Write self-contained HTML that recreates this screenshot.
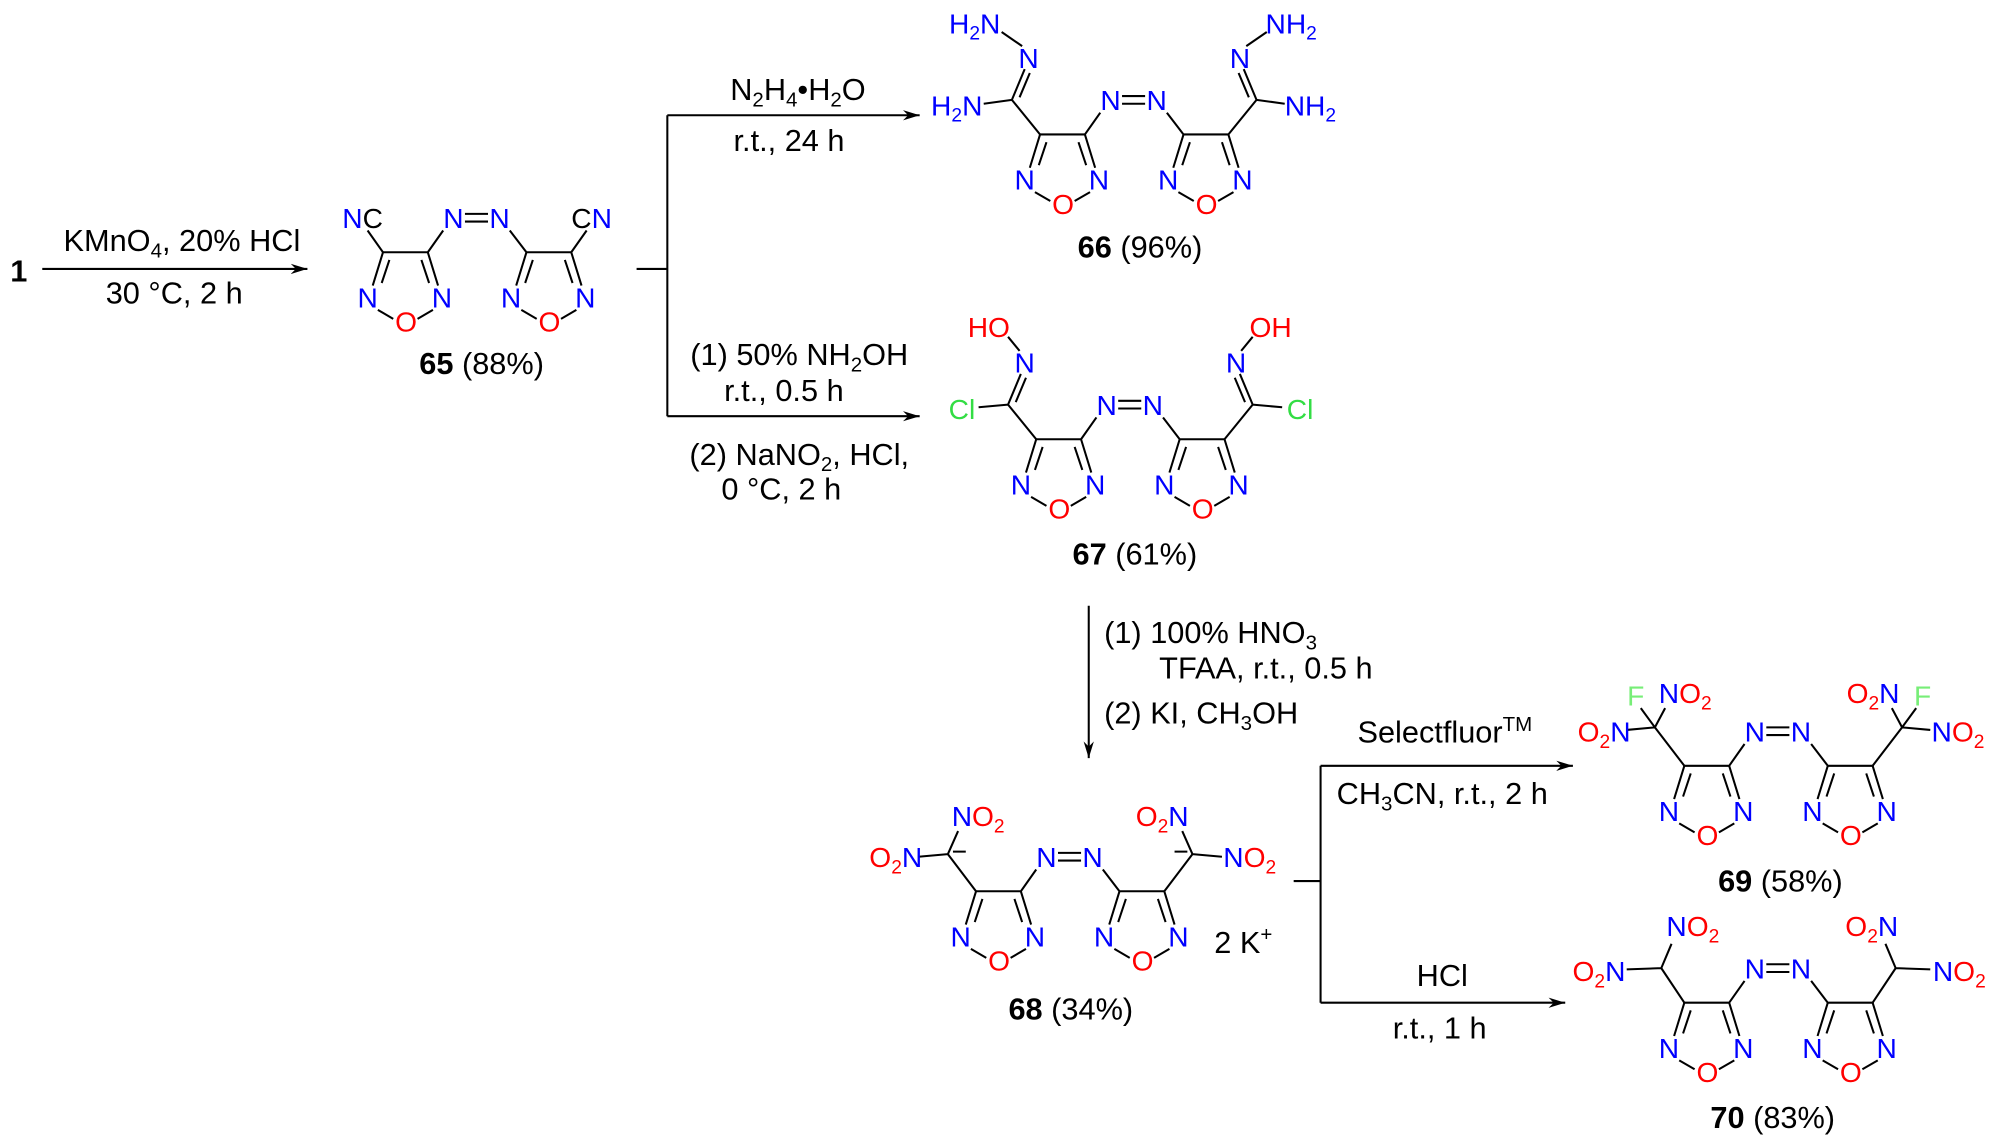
<!DOCTYPE html>
<html><head><meta charset="utf-8"><style>
html,body{margin:0;padding:0;background:#fff;}
svg{display:block;}
text{font-family:"Liberation Sans",Arial,sans-serif;}
.a{font-size:22px;text-anchor:middle;}
.b{fill:#0000ff;} .r{fill:#ff0000;} .g{fill:#33dd44;} .f{fill:#77ee77;}
.l{font-size:24px;text-anchor:middle;fill:#000;}
.t{font-size:22px;}
path{stroke:#000;stroke-width:1.6;fill:none;}
</style></head><body>
<svg width="2002" height="1141" viewBox="0 0 1563 891" preserveAspectRatio="none" xmlns="http://www.w3.org/2000/svg">
<defs><marker id="ah" markerWidth="14" markerHeight="10" refX="13" refY="5" orient="auto" markerUnits="userSpaceOnUse"><path d="M0,1 L13,5 L0,9 L4,5 Z" style="fill:#000;stroke:none"/></marker></defs>

<text x="8" y="220" style="font-size:24px;font-weight:bold">1</text>
<path d="M33,210 H240" marker-end="url(#ah)"/>
<text class="l" x="142" y="196">KMnO<tspan font-size="16" dy="5">4</tspan><tspan dy="-5">, 20% HCl</tspan></text>
<text class="l" x="136" y="237">30 °C, 2 h</text>
<path d="M497,210 H521 M521,90 V325"/>
<path d="M521,90 H718" marker-end="url(#ah)"/>
<path d="M521,325 H718" marker-end="url(#ah)"/>
<text class="l" x="623" y="78">N<tspan font-size="16" dy="5">2</tspan><tspan dy="-5">H</tspan><tspan font-size="16" dy="5">4</tspan><tspan dy="-5">•H</tspan><tspan font-size="16" dy="5">2</tspan><tspan dy="-5">O</tspan></text>
<text class="l" x="616" y="118">r.t., 24 h</text>
<text class="l" x="624" y="285">(1) 50% NH<tspan font-size="16" dy="5">2</tspan><tspan dy="-5">OH</tspan></text>
<text class="l" x="612" y="313">r.t., 0.5 h</text>
<text class="l" x="624" y="363">(2) NaNO<tspan font-size="16" dy="5">2</tspan><tspan dy="-5">, HCl,</tspan></text>
<text class="l" x="610" y="390">0 °C, 2 h</text>
<path d="M850,473 V592" marker-end="url(#ah)"/>
<text x="862" y="502" style="font-size:24px">(1) 100% HNO<tspan font-size="16" dy="5">3</tspan></text>
<text x="905" y="530" style="font-size:24px">TFAA, r.t., 0.5 h</text>
<text x="862" y="565" style="font-size:24px">(2) KI, CH<tspan font-size="16" dy="5">3</tspan><tspan dy="-5">OH</tspan></text>
<path d="M1010,688 H1031 M1031,598 V783"/>
<path d="M1031,598 H1228" marker-end="url(#ah)"/>
<path d="M1031,783 H1222" marker-end="url(#ah)"/>
<text class="l" x="1128" y="580">Selectfluor<tspan font-size="16" dy="-9">TM</tspan></text>
<text class="l" x="1126" y="628">CH<tspan font-size="16" dy="5">3</tspan><tspan dy="-5">CN, r.t., 2 h</tspan></text>
<text class="l" x="1126" y="770">HCl</text>
<text class="l" x="1124" y="811">r.t., 1 h</text>

<text class="l" x="376" y="292"><tspan font-weight="bold">65</tspan> (88%)</text>
<text class="l" x="890" y="201"><tspan font-weight="bold">66</tspan> (96%)</text>
<text class="l" x="886" y="441"><tspan font-weight="bold">67</tspan> (61%)</text>
<text class="l" x="836" y="796"><tspan font-weight="bold">68</tspan> (34%)</text>
<text class="l" x="1390" y="696"><tspan font-weight="bold">69</tspan> (58%)</text>
<text class="l" x="1384" y="881"><tspan font-weight="bold">70</tspan> (83%)</text>
<text x="948" y="744" style="font-size:24px">2 K<tspan font-size="16" dy="-9">+</tspan></text>

<!-- 65 -->
<g transform="translate(299,197)">
<path d="M0,0 H35 M0,0 L-8,26 M5,6 L-1,24 M35,0 L43,26 M30,6 L36,24 M-4,45 L8,52 M39,45 L27,52 M35,0 L47,-17 M64,-30 H82 M64,-24 H82 M99,-17 L112,0 M112,0 H147 M112,0 L104,26 M117,6 L111,24 M147,0 L155,26 M142,6 L148,24 M108,45 L120,52 M151,45 L139,52"/>
<text class="a b" x="-12" y="43">N</text><text class="a b" x="46" y="43">N</text><text class="a r" x="18" y="62">O</text>
<text class="a b" x="55" y="-19">N</text><text class="a b" x="91" y="-19">N</text>
<text class="a b" x="100" y="43">N</text><text class="a b" x="158" y="43">N</text><text class="a r" x="130" y="62">O</text>
<path d="M0,0 L-12,-17 M147,0 L159,-17"/>
<text x="0" y="-19" class="t" style="text-anchor:end"><tspan class="b">N</tspan>C</text>
<text x="147" y="-19" class="t">C<tspan class="b">N</tspan></text>
</g>

<!-- 66 -->
<g transform="translate(812,105)">
<path d="M0,0 H35 M0,0 L-8,26 M5,6 L-1,24 M35,0 L43,26 M30,6 L36,24 M-4,45 L8,52 M39,45 L27,52 M35,0 L47,-17 M64,-30 H82 M64,-24 H82 M99,-17 L112,0 M112,0 H147 M112,0 L104,26 M117,6 L111,24 M147,0 L155,26 M142,6 L148,24 M108,45 L120,52 M151,45 L139,52"/>
<text class="a b" x="-12" y="43">N</text><text class="a b" x="46" y="43">N</text><text class="a r" x="18" y="62">O</text>
<text class="a b" x="55" y="-19">N</text><text class="a b" x="91" y="-19">N</text>
<text class="a b" x="100" y="43">N</text><text class="a b" x="158" y="43">N</text><text class="a r" x="130" y="62">O</text>
<path d="M0,0 L-22,-27 M-22,-27 L-44,-24 M-22,-27 L-12,-51 M-16,-29 L-8,-48 M-14,-69 L-30,-80 M147,0 L169,-27 M169,-27 L191,-24 M169,-27 L159,-51 M163,-29 L155,-48 M161,-69 L177,-80"/>
<text class="a b" x="-9" y="-52">N</text><text class="a b" x="156" y="-52">N</text>
<text class="b t" x="-45" y="-15" style="text-anchor:end">H<tspan font-size="15" dy="5">2</tspan><tspan dy="-5">N</tspan></text>
<text class="b t" x="-31" y="-79" style="text-anchor:end">H<tspan font-size="15" dy="5">2</tspan><tspan dy="-5">N</tspan></text>
<text class="b t" x="191" y="-15">NH<tspan font-size="15" dy="5">2</tspan></text>
<text class="b t" x="176" y="-79">NH<tspan font-size="15" dy="5">2</tspan></text>
</g>

<!-- 67 -->
<g transform="translate(809,343)">
<path d="M0,0 H35 M0,0 L-8,26 M5,6 L-1,24 M35,0 L43,26 M30,6 L36,24 M-4,45 L8,52 M39,45 L27,52 M35,0 L47,-17 M64,-30 H82 M64,-24 H82 M99,-17 L112,0 M112,0 H147 M112,0 L104,26 M117,6 L111,24 M147,0 L155,26 M142,6 L148,24 M108,45 L120,52 M151,45 L139,52"/>
<text class="a b" x="-12" y="43">N</text><text class="a b" x="46" y="43">N</text><text class="a r" x="18" y="62">O</text>
<text class="a b" x="55" y="-19">N</text><text class="a b" x="91" y="-19">N</text>
<text class="a b" x="100" y="43">N</text><text class="a b" x="158" y="43">N</text><text class="a r" x="130" y="62">O</text>
<path d="M0,0 L-22,-27 M-22,-27 L-45,-25 M-22,-27 L-12,-51 M-16,-29 L-8,-48 M-13,-69 L-22,-80 M147,0 L169,-27 M169,-27 L192,-25 M169,-27 L159,-51 M163,-29 L155,-48 M160,-69 L169,-80"/>
<text class="a b" x="-9" y="-52">N</text><text class="a b" x="156" y="-52">N</text>
<text class="a g" x="-58" y="-16">Cl</text><text class="a g" x="206" y="-16">Cl</text>
<text class="a r" x="-37" y="-80">HO</text><text class="a r" x="183" y="-80">OH</text>
</g>

<!-- 68 -->
<g transform="translate(762,696)">
<path d="M0,0 H35 M0,0 L-8,26 M5,6 L-1,24 M35,0 L43,26 M30,6 L36,24 M-4,45 L8,52 M39,45 L27,52 M35,0 L47,-17 M64,-30 H82 M64,-24 H82 M99,-17 L112,0 M112,0 H147 M112,0 L104,26 M117,6 L111,24 M147,0 L155,26 M142,6 L148,24 M108,45 L120,52 M151,45 L139,52"/>
<text class="a b" x="-12" y="43">N</text><text class="a b" x="46" y="43">N</text><text class="a r" x="18" y="62">O</text>
<text class="a b" x="55" y="-19">N</text><text class="a b" x="91" y="-19">N</text>
<text class="a b" x="100" y="43">N</text><text class="a b" x="158" y="43">N</text><text class="a r" x="130" y="62">O</text>
<path d="M0,0 L-22,-29 M-22,-29 L-45,-27 M-22,-29 L-14,-47 M147,0 L169,-29 M169,-29 L192,-27 M169,-29 L161,-47 M-18,-31 H-8 M155,-31 H165"/>
<text x="-42" y="-19" class="t" style="text-anchor:end"><tspan class="r">O</tspan><tspan class="r" font-size="15" dy="5">2</tspan><tspan class="b" dy="-5">N</tspan></text>
<text x="-19" y="-51" class="t"><tspan class="b">N</tspan><tspan class="r">O</tspan><tspan class="r" font-size="15" dy="5">2</tspan></text>
<text x="193" y="-19" class="t"><tspan class="b">N</tspan><tspan class="r">O</tspan><tspan class="r" font-size="15" dy="5">2</tspan></text>
<text x="166" y="-51" class="t" style="text-anchor:end"><tspan class="r">O</tspan><tspan class="r" font-size="15" dy="5">2</tspan><tspan class="b" dy="-5">N</tspan></text>
</g>

<!-- 69 -->
<g transform="translate(1315,598)">
<path d="M0,0 H35 M0,0 L-8,26 M5,6 L-1,24 M35,0 L43,26 M30,6 L36,24 M-4,45 L8,52 M39,45 L27,52 M35,0 L47,-17 M64,-30 H82 M64,-24 H82 M99,-17 L112,0 M112,0 H147 M112,0 L104,26 M117,6 L111,24 M147,0 L155,26 M142,6 L148,24 M108,45 L120,52 M151,45 L139,52"/>
<text class="a b" x="-12" y="43">N</text><text class="a b" x="46" y="43">N</text><text class="a r" x="18" y="62">O</text>
<text class="a b" x="55" y="-19">N</text><text class="a b" x="91" y="-19">N</text>
<text class="a b" x="100" y="43">N</text><text class="a b" x="158" y="43">N</text><text class="a r" x="130" y="62">O</text>
<path d="M0,0 L-23,-30 M-23,-30 L-45,-28 M-23,-30 L-34,-45 M-23,-30 L-15,-45 M147,0 L170,-30 M170,-30 L192,-28 M170,-30 L181,-45 M170,-30 L162,-45"/>
<text class="a f" x="-38" y="-47">F</text><text class="a f" x="186" y="-47">F</text>
<text x="-42" y="-19" class="t" style="text-anchor:end"><tspan class="r">O</tspan><tspan class="r" font-size="15" dy="5">2</tspan><tspan class="b" dy="-5">N</tspan></text>
<text x="-20" y="-49" class="t"><tspan class="b">N</tspan><tspan class="r">O</tspan><tspan class="r" font-size="15" dy="5">2</tspan></text>
<text x="193" y="-19" class="t"><tspan class="b">N</tspan><tspan class="r">O</tspan><tspan class="r" font-size="15" dy="5">2</tspan></text>
<text x="168" y="-49" class="t" style="text-anchor:end"><tspan class="r">O</tspan><tspan class="r" font-size="15" dy="5">2</tspan><tspan class="b" dy="-5">N</tspan></text>
</g>

<!-- 70 -->
<g transform="translate(1315,783)">
<path d="M0,0 H35 M0,0 L-8,26 M5,6 L-1,24 M35,0 L43,26 M30,6 L36,24 M-4,45 L8,52 M39,45 L27,52 M35,0 L47,-17 M64,-30 H82 M64,-24 H82 M99,-17 L112,0 M112,0 H147 M112,0 L104,26 M117,6 L111,24 M147,0 L155,26 M142,6 L148,24 M108,45 L120,52 M151,45 L139,52"/>
<text class="a b" x="-12" y="43">N</text><text class="a b" x="46" y="43">N</text><text class="a r" x="18" y="62">O</text>
<text class="a b" x="55" y="-19">N</text><text class="a b" x="91" y="-19">N</text>
<text class="a b" x="100" y="43">N</text><text class="a b" x="158" y="43">N</text><text class="a r" x="130" y="62">O</text>
<path d="M0,0 L-18,-27 M-18,-27 L-45,-26 M-18,-27 L-10,-46 M147,0 L165,-27 M165,-27 L192,-26 M165,-27 L157,-46"/>
<text x="-46" y="-17" class="t" style="text-anchor:end"><tspan class="r">O</tspan><tspan class="r" font-size="15" dy="5">2</tspan><tspan class="b" dy="-5">N</tspan></text>
<text x="-14" y="-52" class="t"><tspan class="b">N</tspan><tspan class="r">O</tspan><tspan class="r" font-size="15" dy="5">2</tspan></text>
<text x="194" y="-17" class="t"><tspan class="b">N</tspan><tspan class="r">O</tspan><tspan class="r" font-size="15" dy="5">2</tspan></text>
<text x="167" y="-52" class="t" style="text-anchor:end"><tspan class="r">O</tspan><tspan class="r" font-size="15" dy="5">2</tspan><tspan class="b" dy="-5">N</tspan></text>
</g>
</svg>
</body></html>
